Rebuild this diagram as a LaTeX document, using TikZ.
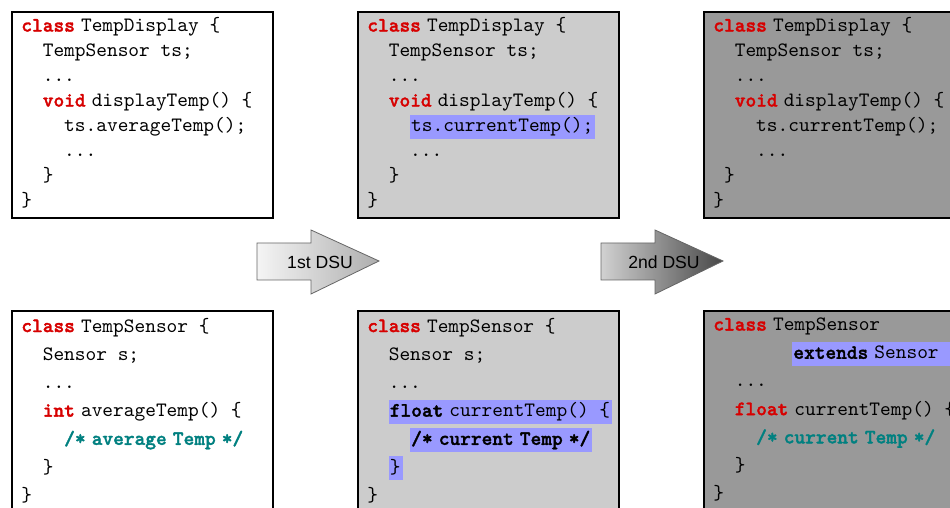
\documentclass[tikz,border=0pt]{standalone}
\usepackage{fontspec}
\usepackage{xcolor}
\usetikzlibrary{shapes,arrows,positioning,calc}

\newfontfamily\dsufont{Liberation Sans}
\newfontfamily\kwfont[FakeBold=1.6]{lmmonolt10-bold.otf}
\definecolor{kwred}{RGB}{215,0,0}
\definecolor{cmteal}{RGB}{0,128,128}
\definecolor{hlblue}{RGB}{153,153,255}

% keywords, comments, highlights, indentation
\newcommand{\kw}[2][kwred]{{\kwfont\color{#1}#2}\hspace{0.3em}}
\newcommand{\cmt}[2][cmteal]{{\kwfont\color{#1}\spaceskip=0.3em #2}}
\newcommand{\hl}[1]{{\fboxsep=0pt\colorbox{hlblue}{\rule[-3.5pt]{0pt}{12pt}\kern0.5pt#1\kern1pt}}}
\newcommand{\codeind}{\hspace*{1.05em}}

\tikzset{
  codebox/.style={draw, line width=0.8pt, anchor=north west, inner sep=0,
    minimum width=130.5pt, minimum height=#1},
  codebox/.default=103pt,
  code/.style={anchor=north west, inner sep=0, align=left,
    font=\ttfamily\fontsize{10.2pt}{#1}\selectfont,
    execute at begin node=\rule{0pt}{8pt}},
  code/.default=12.5pt,
  dsuarrow/.style={draw=black!60, line width=0.4pt},
  dsulabel/.style={font=\dsufont\fontsize{8.8pt}{10pt}\selectfont, inner sep=0}
}

\begin{document}
\begin{tikzpicture}[x=0.5pt, y=-0.5pt]
\clip (0,0) rectangle (950,508);

% Boxes before, after 1st and after 2nd update
\node[codebox, fill=white] (disp0) at (11,11) {};
\node[codebox, fill=black!20] (disp1) at (357,11) {};
\node[codebox, fill=black!40] (disp2) at (703,11) {};
\node[codebox=110pt, fill=white] (sens0) at (11,310) {};
\node[codebox=110pt, fill=black!20] (sens1) at (357,310) {};
\node[codebox=110pt, fill=black!40] (sens2) at (703,310) {};

% TempDisplay
\node[code] (disp0code) at ($(disp0.north west)+(10,6)$) {%
\kw{class}TempDisplay \{\\
\codeind TempSensor ts;\\
\codeind ...\\
\codeind\kw{void}displayTemp() \{\\
\codeind\codeind ts.averageTemp();\\
\codeind\codeind ...\\
\codeind\}\\
\}};
\node[code] (disp1code) at ($(disp1.north west)+(10,6)$) {%
\kw{class}TempDisplay \{\\
\codeind TempSensor ts;\\
\codeind ...\\
\codeind\kw{void}displayTemp() \{\\
\codeind\codeind\hl{ts.currentTemp();}\\
\codeind\codeind ...\\
\codeind\}\\
\}};
\node[code] (disp2code) at ($(disp2.north west)+(10,6)$) {%
\kw{class}TempDisplay \{\\
\codeind TempSensor ts;\\
\codeind ...\\
\codeind\kw{void}displayTemp() \{\\
\codeind\codeind ts.currentTemp();\\
\codeind\codeind ...\\
\hspace*{0.525em}\}\\
\}};

% TempSensor
\node[code=14.1pt] (sens0code) at ($(sens0.north west)+(10,7.5)$) {%
\kw{class}TempSensor \{\\
\codeind Sensor s;\\
\codeind ...\\
\codeind\kw{int}averageTemp() \{\\
\codeind\codeind\cmt{/* average Temp */}\\
\codeind\}\\
\}};
\node[code=14.1pt] (sens1code) at ($(sens1.north west)+(10,7.5)$) {%
\kw{class}TempSensor \{\\
\codeind Sensor s;\\
\codeind ...\\
\codeind\hl{\kw[black]{float}currentTemp() \{}\\
\codeind\codeind\hl{\cmt[black]{/* current Temp */}}\\
\codeind\hl{\}}\\
\}};
\node[code=14.1pt] (sens2code) at ($(sens2.north west)+(10,7.5)$) {%
\kw{class}TempSensor\\
\hspace*{3.87em}\hl{\kw[black]{extends}Sensor \{}\\
\codeind ...\\
\codeind\kw{float}currentTemp() \{\\
\codeind\codeind\cmt{/* current Temp */}\\
\codeind\}\\
\}};

% Update arrows
\foreach \x/\lbl/\lc/\rc/\nm in {257/1st DSU/black!4/black!32/dsu1,
                                 601/2nd DSU/black!18/black!72/dsu2} {
  \shade[dsuarrow, left color=\lc, right color=\rc]
    (\x,243) -- (\x+54,243) -- (\x+54,230) -- (\x+122,261)
    -- (\x+54,294) -- (\x+54,280) -- (\x,280) -- cycle;
  \node[dsulabel] (\nm) at (\x+63,262) {\lbl};
}
\end{tikzpicture}
\end{document}
